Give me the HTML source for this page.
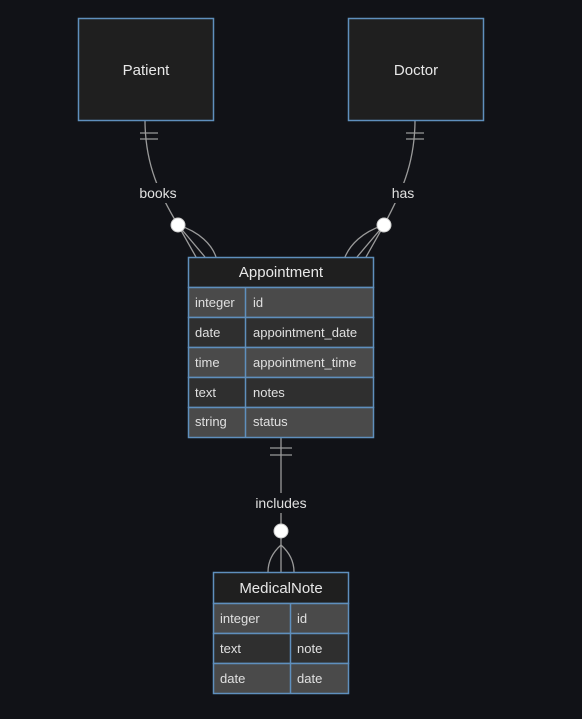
<!DOCTYPE html>
<html><head><style>
body{margin:0;background:#111217;width:582px;height:714px;overflow:hidden;font-family:"Liberation Sans",sans-serif}
svg text{font-family:"Liberation Sans",sans-serif}
</style></head><body>
<svg width="582" height="714" viewBox="0 0 582 714" xmlns="http://www.w3.org/2000/svg">
<rect width="582" height="714" fill="#111217"/>
<g fill="none" stroke="#9a9a9a" stroke-width="1.3">
<path d="M145 120 C145 165 160 195 178 225"/>
<path d="M415 120 C415 165 400 195 384 225"/>
<path d="M140 133 H158 M140 139 H158"/>
<path d="M406 133 H424 M406 139 H424"/>
<path d="M178 225 L205 257 M178 225 C200 232 212 245 216 257 M178 225 L196 257"/>
<path d="M384 225 L357 257 M384 225 C362 232 350 245 345 257 M384 225 L366 257"/>
<path d="M281 437 V572"/>
<path d="M270 448 H292 M270 455 H292"/>
<path d="M281 545 C272 553 268 562 268 572 M281 545 C290 553 294 562 294 572"/>
</g>
<rect x="136" y="183" width="44" height="20" fill="#111217"/>
<rect x="388" y="183" width="30" height="20" fill="#111217"/>
<rect x="250" y="493" width="62" height="20" fill="#111217"/>
<g fill="#e0e0e0" font-size="14">
<text x="158" y="198" text-anchor="middle">books</text>
<text x="403" y="198" text-anchor="middle">has</text>
<text x="281" y="508" text-anchor="middle">includes</text>
</g>
<g fill="#ffffff" stroke="#cccccc"><circle cx="178" cy="225" r="7"/><circle cx="384" cy="225" r="7"/><circle cx="281" cy="531" r="7"/></g>
<g stroke="#5f8fbd" stroke-width="1.5">
<rect x="78.5" y="18.5" width="135" height="102" fill="#1f1f1f"/>
<rect x="348.5" y="18.5" width="135" height="102" fill="#1f1f1f"/>
<rect x="188.5" y="257.5" width="185" height="30" fill="#1f1f1f"/>
<rect x="188.5" y="287.5" width="185" height="30" fill="#4a4a4a"/>
<rect x="188.5" y="317.5" width="185" height="30" fill="#2f2f2f"/>
<rect x="188.5" y="347.5" width="185" height="30" fill="#4a4a4a"/>
<rect x="188.5" y="377.5" width="185" height="30" fill="#2f2f2f"/>
<rect x="188.5" y="407.5" width="185" height="30" fill="#4a4a4a"/>
<path d="M245.5 287.5 V437.5"/>
<rect x="213.5" y="572.5" width="135" height="31" fill="#1f1f1f"/>
<rect x="213.5" y="603.5" width="135" height="30" fill="#4a4a4a"/>
<rect x="213.5" y="633.5" width="135" height="30" fill="#2f2f2f"/>
<rect x="213.5" y="663.5" width="135" height="30" fill="#4a4a4a"/>
<path d="M290.5 603.5 V693.5"/>
</g>
<g fill="#e8e8e8" font-size="15" text-anchor="middle">
<text x="146" y="75">Patient</text>
<text x="416" y="75">Doctor</text>
<text x="281" y="277">Appointment</text>
<text x="281" y="593">MedicalNote</text>
</g>
<g fill="#e0e0e0" font-size="13">
<text x="195" y="307">integer</text><text x="253" y="307">id</text>
<text x="195" y="337">date</text><text x="253" y="337">appointment_date</text>
<text x="195" y="367">time</text><text x="253" y="367">appointment_time</text>
<text x="195" y="397">text</text><text x="253" y="397">notes</text>
<text x="195" y="426">string</text><text x="253" y="426">status</text>
<text x="220" y="623">integer</text><text x="297" y="623">id</text>
<text x="220" y="653">text</text><text x="297" y="653">note</text>
<text x="220" y="683">date</text><text x="297" y="683">date</text>
</g>
</svg>
</body></html>
